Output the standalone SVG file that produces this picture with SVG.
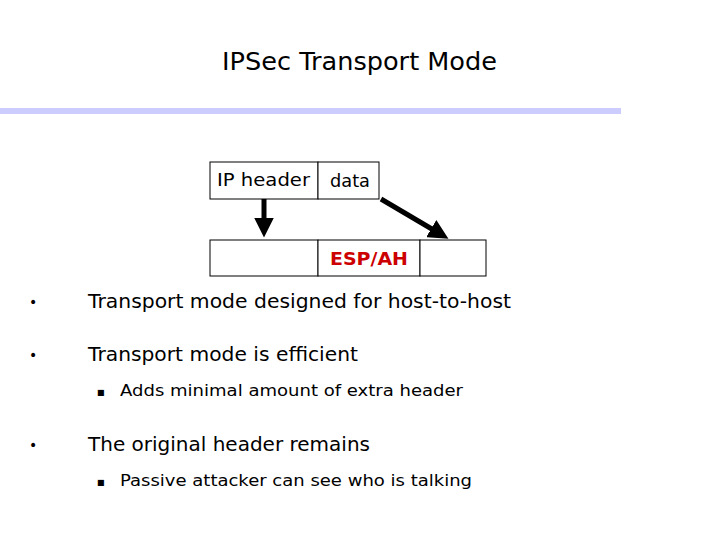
<svg xmlns="http://www.w3.org/2000/svg" width="720" height="540" viewBox="0 0 720 540">
<style>
.t{font-family:"DejaVu Sans",sans-serif;fill:#000}
.b{fill:#fff;stroke:#000;stroke-width:1}
.c{font-family:"DejaVu Sans",sans-serif;font-size:18px}
.a{stroke:#000;stroke-width:5;fill:none}
</style>
<defs><marker id="ah" markerWidth="4" markerHeight="4" refX="2.5" refY="2" orient="auto" markerUnits="strokeWidth"><path d="M0,0L4,2L0,4z" fill="#000"/></marker></defs>
<rect width="720" height="540" fill="#fff"/>
<text class="t" x="222" y="70" font-size="24" textLength="275" lengthAdjust="spacingAndGlyphs">IPSec Transport Mode</text>
<rect x="0" y="108" width="621" height="6" fill="#ccccff"/>
<g id="top">
<rect class="b" x="210" y="162" width="108" height="37"/>
<rect class="b" x="318" y="162" width="61" height="37"/>
<text class="c" x="217" y="186" textLength="93" lengthAdjust="spacingAndGlyphs">IP header</text>
<text class="c" x="330" y="187" textLength="40" lengthAdjust="spacingAndGlyphs">data</text>
</g>
<g id="bottom">
<rect class="b" x="210" y="240" width="108" height="36"/>
<rect class="b" x="318" y="240" width="102" height="36"/>
<rect class="b" x="420" y="240" width="66" height="36"/>
<text x="330" y="265" textLength="78" lengthAdjust="spacingAndGlyphs" font-family="DejaVu Sans,sans-serif" font-size="17" font-weight="bold" fill="#cc0000">ESP/AH</text>
</g>
<g id="connectors">
<line class="a" x1="264" y1="199" x2="264" y2="230" marker-end="url(#ah)"/>
<line class="a" x1="381" y1="199" x2="442" y2="235" marker-end="url(#ah)"/>
</g>
<g class="t" font-size="19">
<text x="29" y="307" font-size="14">•</text><text x="88" y="308" textLength="423" lengthAdjust="spacingAndGlyphs">Transport mode designed for host-to-host</text>
<text x="29" y="360" font-size="14">•</text><text x="88" y="361" textLength="270" lengthAdjust="spacingAndGlyphs">Transport mode is efficient</text>
<text x="29" y="450" font-size="14">•</text><text x="88" y="451" textLength="282" lengthAdjust="spacingAndGlyphs">The original header remains</text>
<text x="97" y="395" font-size="8">■</text><text x="120" y="396" font-size="16" textLength="343" lengthAdjust="spacingAndGlyphs">Adds minimal amount of extra header</text>
<text x="97" y="485" font-size="8">■</text><text x="120" y="486" font-size="16" textLength="352" lengthAdjust="spacingAndGlyphs">Passive attacker can see who is talking</text>
</g>
</svg>
